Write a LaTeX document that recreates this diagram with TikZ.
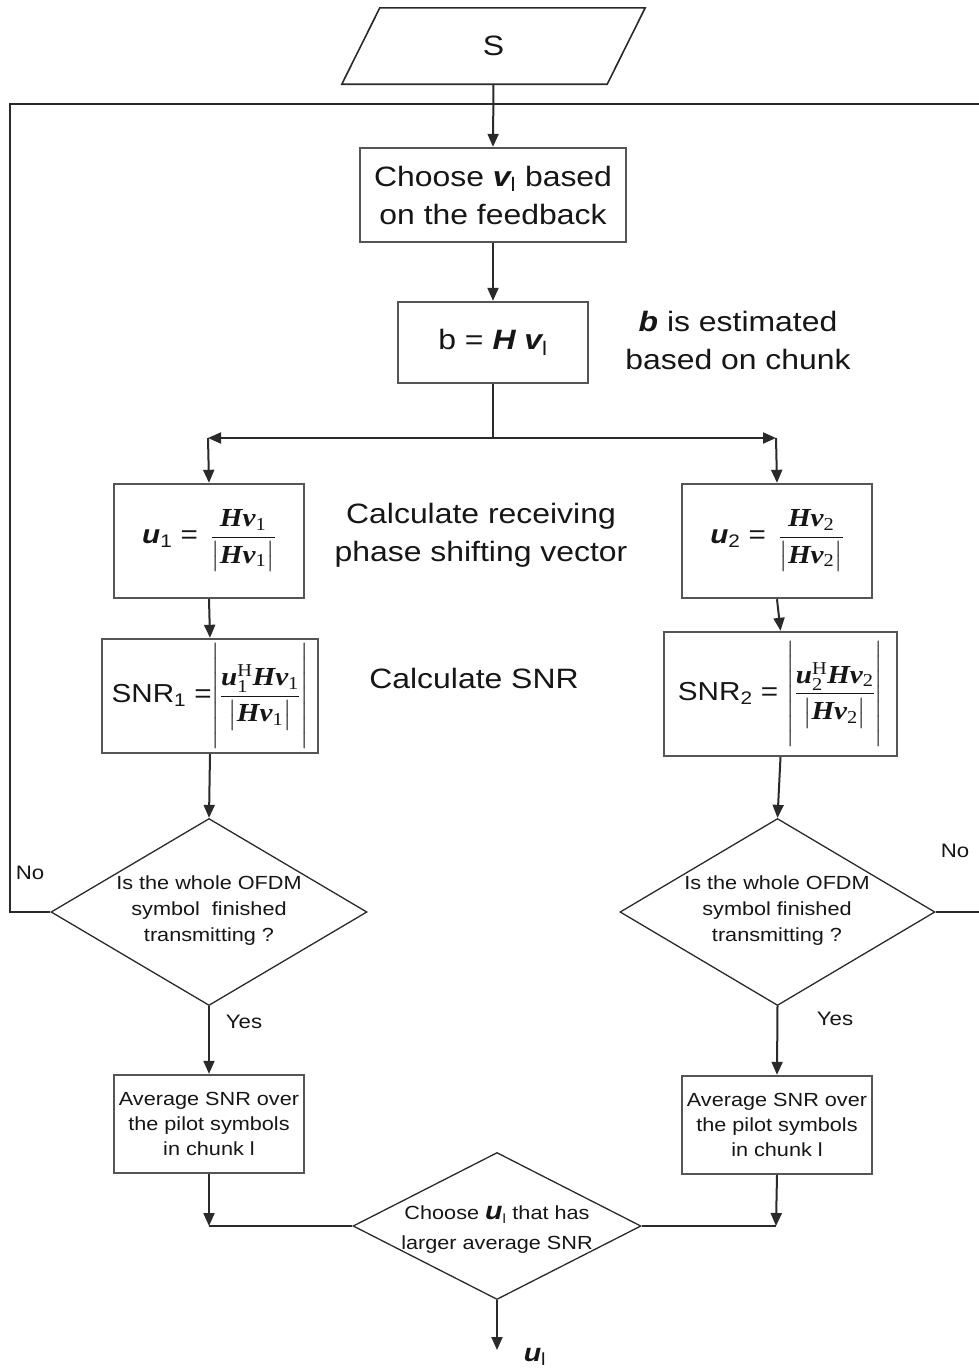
\documentclass[tikz,border=0pt]{standalone}
\usepackage{amsmath}
\usepackage{fontspec}
\setmainfont{Liberation Sans}[FakeStretch=1.14]
\newfontfamily\tms{Liberation Serif}[FakeStretch=1.12]
\usetikzlibrary{arrows.meta,shapes.geometric,calc}

% bold italic vector in serif with a regular subscript
\newcommand{\Hvsub}[1]{\text{\tms\bfseries\itshape Hv}_{\text{\tms #1}}}
\newcommand{\uHsub}[1]{\text{\tms\bfseries\itshape u}^{\text{\tms H}}_{\text{\tms #1}}}
\newcommand{\bv}[1]{{\bfseries\itshape #1}}
% modulus bars of a fixed height
\newcommand{\absHv}[1]{\left|\rule[-9pt]{0pt}{31pt}\Hvsub{#1}\right|}

\definecolor{boxline}{HTML}{555555}
\definecolor{wire}{HTML}{2A2A2A}
\definecolor{ink}{HTML}{161616}

\tikzset{
  every node/.style={text=ink},
  stepbox/.style={draw=boxline, line width=2.4pt, rectangle, inner sep=0pt,
    align=center, font=\fontsize{28}{38}\selectfont},
  mathbox/.style={draw=boxline, line width=2.4pt, rectangle, inner sep=0pt,
    align=center, font=\fontsize{26}{30}\selectfont},
  smallbox/.style={draw=boxline, line width=2.4pt, rectangle, inner sep=0pt,
    align=center, font=\fontsize{19}{25}\selectfont},
  decide/.style={draw=wire, line width=1.3pt, diamond, inner sep=0pt},
  decidetext/.style={align=center, inner sep=0pt, font=\fontsize{19}{26}\selectfont},
  note/.style={align=center, inner sep=0pt, font=\fontsize{28}{38}\selectfont},
  tag/.style={inner sep=0pt, font=\fontsize{19.5}{24}\selectfont},
  wireline/.style={draw=wire, line width=2pt},
  flow/.style={wireline, -{Triangle[length=13pt,width=11pt]}},
}

\begin{document}
\begin{tikzpicture}[x=1pt, y=-1pt]
\useasboundingbox[fill=white] (0,0) rectangle (979,1369);

% input parallelogram
\node (s) [minimum width=265pt, minimum height=76pt, inner sep=0pt,
  font=\fontsize{28}{34}\selectfont] at (493.5,46) {S};
\draw[draw=wire, line width=1.6pt]
  ($(s.south west)+(-19,0)$) -- ($(s.south east)+(-19,0)$)
  -- ($(s.north east)+(19,0)$) -- ($(s.north west)+(19,0)$) -- cycle;

% main column
\node (choose) [stepbox, minimum width=266pt, minimum height=94pt] at (493,195)
  {Choose \bv{v}\textsubscript{l} based\\on the feedback};
\node (bcalc) [stepbox, minimum width=190pt, minimum height=81pt] at (493,342.5)
  {b = \bv{H} \bv{v}\textsubscript{l}};
\node (bnote) [note] at (738,340) {\bv{b} is estimated\\based on chunk};

% two branches
\node (u1) [mathbox, minimum width=190pt, minimum height=114pt] at (209,541)
  {\bv{u}\textsubscript{1} = \,$\displaystyle\frac{\Hvsub{1}}{\absHv{1}}$};
\node (u2) [mathbox, minimum width=190pt, minimum height=114pt] at (777,541)
  {\bv{u}\textsubscript{2} = \,$\displaystyle\frac{\Hvsub{2}}{\absHv{2}}$};
\node (recv) [note] at (481,535) {Calculate receiving\\phase shifting vector};

\node (snr1) [mathbox, minimum width=216pt, minimum height=114pt] at (210,696)
  {SNR\textsubscript{1} =$\left|\rule[-46pt]{0pt}{104pt}\displaystyle\frac{\uHsub{1}\Hvsub{1}}{\absHv{1}}\right|$};
\node (snr2) [mathbox, minimum width=233pt, minimum height=124pt] at (780.5,694)
  {SNR\textsubscript{2} = $\left|\rule[-48pt]{0pt}{108pt}\displaystyle\frac{\uHsub{2}\Hvsub{2}}{\absHv{2}}\right|$};
\node (calcsnr) [note] at (474,678) {Calculate SNR};

\node (d1) [decide, minimum width=316pt, minimum height=187pt] at (209,912) {};
\node (d1t) [decidetext] at (209,911) {Is the whole OFDM\\symbol\ \ finished\\transmitting ?};
\node (d2) [decide, minimum width=315pt, minimum height=187pt] at (777.5,912) {};
\node (d2t) [decidetext] at (777,911) {Is the whole OFDM\\symbol finished\\transmitting ?};

\node (yes1) [tag] at (244,1022) {Yes};
\node (yes2) [tag] at (835,1019) {Yes};
\node (no1) [tag] at (30,873) {No};
\node (no2) [tag] at (955,851) {No};

\node (avg1) [smallbox, minimum width=190pt, minimum height=98pt] at (209,1124)
  {Average SNR over\\the pilot symbols\\in chunk l};
\node (avg2) [smallbox, minimum width=190pt, minimum height=98pt] at (777,1125)
  {Average SNR over\\the pilot symbols\\in chunk l};

\node (d3) [decide, minimum width=288pt, minimum height=147pt] at (497,1226) {};
\node (d3t) [inner sep=0pt, align=center, font=\fontsize{19}{30}\selectfont] at (497,1230)
  {Choose {\fontsize{25}{30}\selectfont\bv{u}}\textsubscript{l} that has\\larger average SNR};

\node (ul) [inner sep=0pt, font=\fontsize{25}{30}\selectfont] at (535,1357)
  {\bv{u}\textsubscript{l}};

% route points
\coordinate (split) at (493,438);
\coordinate (splitL) at (208,438);
\coordinate (splitR) at (776,438);
\coordinate (loopL) at (10,912);
\coordinate (topL) at (10,104);
\coordinate (topR) at (979,104);
\coordinate (loopR) at (979,912);
\coordinate (mergeL) at (209,1226);
\coordinate (mergeR) at (776,1226);
\coordinate (out) at (497,1350);

% connectors
\draw[flow] (s.south) -- (choose.north);
\draw[flow] (choose.south) -- (bcalc.north);
\draw[wireline] (bcalc.south) -- (split);
\draw[wireline, {Triangle[length=13pt,width=11pt]}-{Triangle[length=13pt,width=11pt]}] (splitL) -- (splitR);
\draw[flow] (splitL) -- (u1.north);
\draw[flow] (splitR) -- (u2.north);
\draw[flow] (u1.south) -- (snr1.north);
\draw[flow] (u2.south) -- (snr2.north);
\draw[flow] (snr1.south) -- (d1.north);
\draw[flow] (snr2.south) -- (d2.north);
\draw[flow] (d1.south) -- (avg1.north);
\draw[flow] (d2.south) -- (avg2.north);
\draw[wireline] (d1.west) -- (loopL) -- (topL) -- (topR);
\draw[wireline] (d2.east) -- (loopR);
\draw[flow] (avg1.south) -- (mergeL);
\draw[flow] (avg2.south) -- (mergeR);
\draw[wireline] (mergeL) -- (d3.west);
\draw[wireline] (mergeR) -- (d3.east);
\draw[flow] (d3.south) -- (out);
\end{tikzpicture}
\end{document}
